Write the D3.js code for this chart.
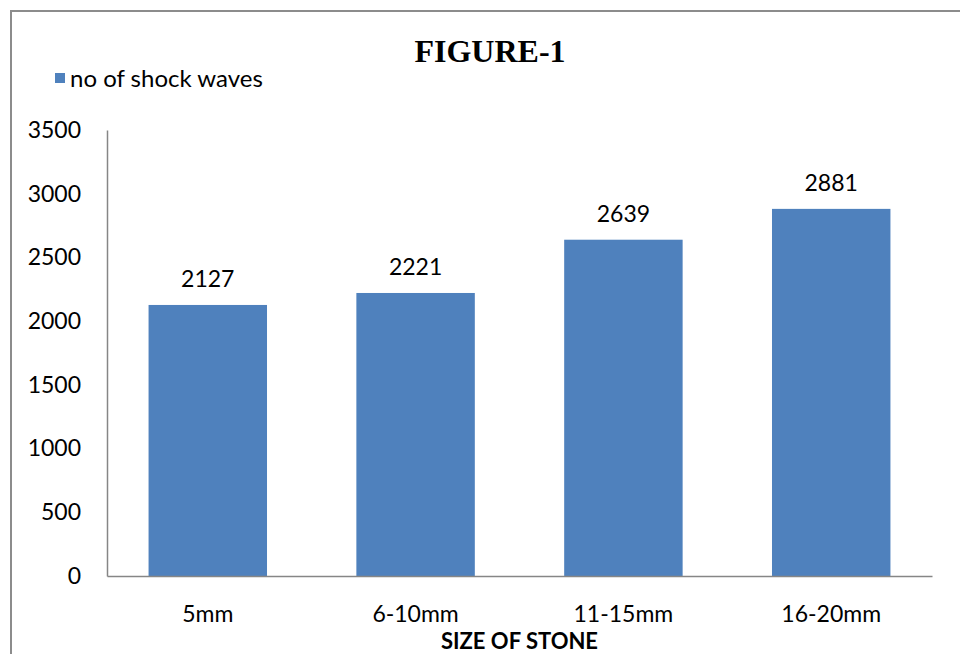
<!DOCTYPE html>
<html>
<head>
<meta charset="utf-8">
<script src="https://cdn.jsdelivr.net/npm/d3@7"></script>
<style>
  body { margin: 0; background: #fff; }
  text { font-family: Lato, "Open Sans", sans-serif; }
</style>
</head>
<body>
<div id="chart"></div>
<script>
const categories = ["5mm", "6-10mm", "11-15mm", "16-20mm"];
const values = [2127, 2221, 2639, 2881];
const yTicks = [0, 500, 1000, 1500, 2000, 2500, 3000, 3500];
const seriesName = "no of shock waves";

const width = 960;
const height = 654;
const margin = { top: 130, right: 28, bottom: 78, left: 107 };
const bodyFont = "Lato, 'Open Sans', sans-serif";

const svg = d3.select("#chart")
    .append("svg")
    .attr("width", width)
    .attr("height", height);

// outer frame
svg.append("path")
    .attr("d", `M11,${height} L11,11 L${width},11`)
    .attr("fill", "none")
    .attr("stroke", "#8c8c8c")
    .attr("stroke-width", 2);

const x = d3.scaleBand()
    .domain(categories)
    .range([margin.left, width - margin.right])
    .paddingInner(0.43)
    .paddingOuter(0.2);

const y = d3.scaleLinear()
    .domain([0, 3500])
    .range([height - margin.bottom, margin.top]);

// bars
svg.selectAll("rect.bar")
    .data(values)
    .enter()
    .append("rect")
    .attr("class", "bar")
    .attr("x", (d, i) => x(categories[i]))
    .attr("y", d => y(d))
    .attr("width", x.bandwidth())
    .attr("height", d => y(0) - y(d))
    .attr("fill", "#4f81bd");

// value labels
svg.selectAll("text.val")
    .data(values)
    .enter()
    .append("text")
    .attr("class", "val")
    .attr("x", (d, i) => x(categories[i]) + x.bandwidth() / 2)
    .attr("y", d => y(d) - 18)
    .attr("text-anchor", "middle")
    .attr("font-size", 23)
    .attr("fill", "#000")
    .text(d => d);

// y axis
const yAxis = svg.append("g")
    .attr("transform", `translate(${margin.left},0)`)
    .call(d3.axisLeft(y).tickValues(yTicks).tickFormat(d3.format("d")).tickSize(0).tickPadding(26));
yAxis.select(".domain").attr("stroke", "#868686").attr("stroke-width", 1.5);
yAxis.selectAll("text").attr("font-size", 23).attr("fill", "#000")
    .attr("font-family", bodyFont);

// x axis
const xAxis = svg.append("g")
    .attr("transform", `translate(0,${height - margin.bottom})`)
    .call(d3.axisBottom(x).tickSize(0).tickPadding(30));
xAxis.select(".domain").attr("stroke", "#868686").attr("stroke-width", 1.5);
xAxis.selectAll("text").attr("font-size", 23).attr("fill", "#000")
    .attr("font-family", bodyFont);

// axis title
svg.append("text")
    .attr("x", (margin.left + width - margin.right) / 2)
    .attr("y", 649)
    .attr("text-anchor", "middle")
    .attr("font-size", 22)
    .attr("font-weight", "bold")
    .text("SIZE OF STONE");

// chart title
svg.append("text")
    .attr("x", 490)
    .attr("y", 62)
    .attr("text-anchor", "middle")
    .attr("font-size", 32)
    .attr("font-weight", "bold")
    .style("font-family", "'Liberation Serif', serif")
    .text("FIGURE-1");

// legend
svg.append("rect")
    .attr("x", 55)
    .attr("y", 73)
    .attr("width", 10)
    .attr("height", 10)
    .attr("fill", "#4f81bd");
svg.append("text")
    .attr("x", 70)
    .attr("y", 87)
    .attr("font-size", 24)
    .text(seriesName);
</script>
</body>
</html>
